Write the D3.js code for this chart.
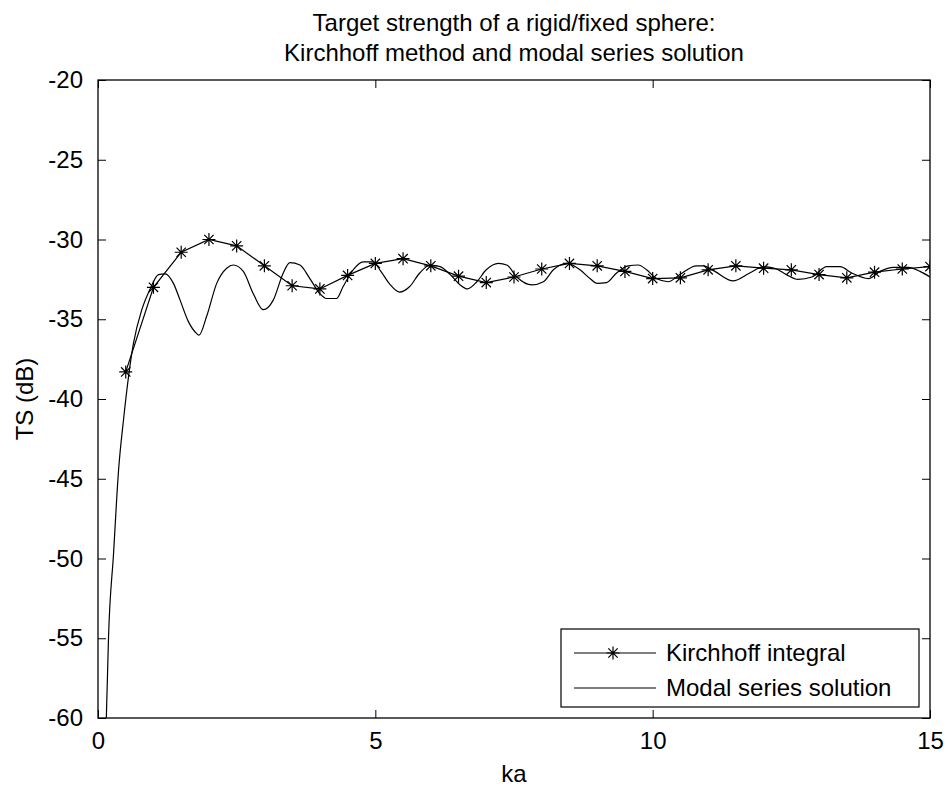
<!DOCTYPE html>
<html>
<head>
<meta charset="utf-8">
<script src="https://cdn.jsdelivr.net/npm/d3@7"></script>
<style>
  body { margin: 0; background: #fff; }
  text { font-family: "Liberation Sans", Arial, sans-serif; fill: #000; }
</style>
</head>
<body>
<div id="container"></div>
<script>
// Kirchhoff integral, sampled every 0.5 in ka
const kirchKa = [0.5, 1, 1.5, 2, 2.5, 3, 3.5, 4, 4.5, 5, 5.5, 6, 6.5, 7, 7.5,
                 8, 8.5, 9, 9.5, 10, 10.5, 11, 11.5, 12, 12.5, 13, 13.5, 14, 14.5, 15];
const kirchTS = [-38.3, -33.0, -30.8, -30.0, -30.4, -31.65, -32.9, -33.1, -32.25, -31.5,
                 -31.2, -31.65, -32.3, -32.7, -32.35, -31.85, -31.5, -31.65, -32.0, -32.45,
                 -32.4, -31.9, -31.65, -31.8, -31.9, -32.2, -32.4, -32.05, -31.85, -31.7];

// modal series solution
const modalKa = [0.15, 0.19, 0.28, 0.37, 0.46, 0.64, 0.79, 0.94, 1.09, 1.21, 1.36, 1.48, 1.63, 1.78, 1.82,
                 1.96, 2.14, 2.32, 2.44, 2.62, 2.8, 2.98, 3.16, 3.34, 3.46, 3.64, 3.82, 4.0, 4.12, 4.3,
                 4.42, 4.6, 4.78, 4.96, 5.1, 5.26, 5.44, 5.62, 5.8, 5.99, 6.17, 6.35, 6.53, 6.66, 6.83,
                 7.0, 7.22, 7.37, 7.55, 7.82, 8.03, 8.21, 8.45, 8.69, 8.87, 9.0, 9.17, 9.35, 9.56, 9.74,
                 9.89, 10.07, 10.28, 10.49, 10.79, 10.91, 11.12, 11.45, 11.75, 12.0, 12.2, 12.41, 12.62,
                 12.87, 13.14, 13.38, 13.59, 13.89, 14.1, 14.34, 14.61, 14.82, 15.0];
const modalTS = [-60, -54.9, -49.7, -44.5, -41.3, -36.5, -34.4, -33.1, -32.2, -32.15, -32.75, -33.8, -35.15, -35.9, -36.0,
                 -34.8, -32.75, -31.8, -31.6, -32.0, -33.4, -34.4, -33.8, -32.1, -31.45, -31.6, -32.45, -33.4, -33.7, -33.7,
                 -32.95, -31.9, -31.4, -31.4, -32.0, -32.8, -33.3, -32.95, -32.1, -31.6, -31.7, -32.2, -32.85, -33.1, -32.65,
                 -31.9, -31.5, -31.6, -32.35, -32.85, -32.65, -31.9, -31.5, -31.9, -32.45, -32.75, -32.7, -32.1, -31.65, -31.6,
                 -31.9, -32.45, -32.65, -32.2, -31.65, -31.65, -32.0, -32.6, -32.1, -31.7, -31.8, -32.2, -32.5,
                 -32.35, -31.7, -31.7, -32.1, -32.45, -32.0, -31.75, -31.75, -32.0, -32.35];

const xTicks = [0, 5, 10, 15];
const yTicks = [-20, -25, -30, -35, -40, -45, -50, -55, -60];
const titleLines = ["Target strength of a rigid/fixed sphere:", "Kirchhoff method and modal series solution"];
const legendLabels = ["Kirchhoff integral", "Modal series solution"];

const width = 948, height = 789;
const margin = {top: 80, right: 18, bottom: 71, left: 98};
const fontSize = 24;

const kirchData = kirchKa.map((k, i) => ({ka: k, ts: kirchTS[i]}));
const modalData = modalKa.map((k, i) => ({ka: k, ts: modalTS[i]}));

const xScale = d3.scaleLinear().domain([0, 15]).range([margin.left, width - margin.right]);
const yScale = d3.scaleLinear().domain([-60, -20]).range([height - margin.bottom, margin.top]);

const svg = d3.select("#container").append("svg")
  .attr("width", width).attr("height", height);

const x0 = xScale.range()[0], x1 = xScale.range()[1];
const y0 = yScale.range()[0], y1 = yScale.range()[1];
const tickLen = 8;

// axes, MATLAB style: ticks point inward on all four sides
svg.append("g")
  .attr("transform", `translate(0,${y0})`)
  .call(d3.axisBottom(xScale).tickValues(xTicks).tickSizeInner(-tickLen).tickSizeOuter(0).tickPadding(14))
  .call(g => g.select(".domain").remove())
  .call(g => g.selectAll("text").style("font-size", fontSize + "px").attr("font-family", null));

svg.append("g")
  .attr("transform", `translate(0,${y1})`)
  .call(d3.axisTop(xScale).tickValues(xTicks).tickSizeInner(-tickLen).tickSizeOuter(0).tickFormat(""))
  .call(g => g.select(".domain").remove());

svg.append("g")
  .attr("transform", `translate(${x0},0)`)
  .call(d3.axisLeft(yScale).tickValues(yTicks).tickSizeInner(-tickLen).tickSizeOuter(0).tickPadding(15)
    .tickFormat(d => d3.format("d")(d).replace("\u2212", "-")))
  .call(g => g.select(".domain").remove())
  .call(g => g.selectAll("text").style("font-size", fontSize + "px").attr("font-family", null));

svg.append("g")
  .attr("transform", `translate(${x1},0)`)
  .call(d3.axisRight(yScale).tickValues(yTicks).tickSizeInner(-tickLen).tickSizeOuter(0).tickFormat(""))
  .call(g => g.select(".domain").remove());

svg.selectAll(".tick line").attr("stroke", "#000").attr("stroke-width", 1);

// clip for the curves
svg.append("clipPath").attr("id", "plotclip")
  .append("rect").attr("x", x0).attr("y", y1).attr("width", x1 - x0).attr("height", y0 - y1);

const line = d3.line().x(d => xScale(d.ka)).y(d => yScale(d.ts));
const smooth = d3.line().x(d => xScale(d.ka)).y(d => yScale(d.ts)).curve(d3.curveMonotoneX);

const plot = svg.append("g").attr("clip-path", "url(#plotclip)");

plot.append("path").datum(modalData)
  .attr("d", smooth).attr("fill", "none").attr("stroke", "#000").attr("stroke-width", 1.2);

plot.append("path").datum(kirchData)
  .attr("d", line).attr("fill", "none").attr("stroke", "#000").attr("stroke-width", 1.2);

const r = 6.5, rd = r * 0.72;
const starPath = `M${-r},0H${r}M0,${-r}V${r}M${-rd},${-rd}L${rd},${rd}M${-rd},${rd}L${rd},${-rd}`;

plot.selectAll("path.star").data(kirchData).join("path")
  .attr("class", "star")
  .attr("transform", d => `translate(${xScale(d.ka)},${yScale(d.ts)})`)
  .attr("d", starPath).attr("fill", "none").attr("stroke", "#000").attr("stroke-width", 1.2);

// box
svg.append("rect").attr("x", x0).attr("y", y1).attr("width", x1 - x0).attr("height", y0 - y1)
  .attr("fill", "none").attr("stroke", "#000").attr("stroke-width", 1.3);

// title
svg.append("text").attr("x", (x0 + x1) / 2).attr("text-anchor", "middle").style("font-size", fontSize + "px")
  .selectAll("tspan").data(titleLines).join("tspan")
  .attr("x", (x0 + x1) / 2).attr("y", (d, i) => 31 + i * 30).text(d => d);

// axis labels
svg.append("text").attr("x", (x0 + x1) / 2).attr("y", 782).attr("text-anchor", "middle")
  .style("font-size", fontSize + "px").text("ka");

svg.append("text").attr("transform", `translate(33,${(y0 + y1) / 2}) rotate(-90)`)
  .attr("text-anchor", "middle").style("font-size", fontSize + "px").text("TS (dB)");

// legend
const legend = svg.append("g");
legend.append("rect").attr("x", 561).attr("y", 629).attr("width", 358).attr("height", 78)
  .attr("fill", "#fff").attr("stroke", "#000").attr("stroke-width", 1.2);

const rows = legend.selectAll("g.row").data(legendLabels).join("g")
  .attr("class", "row")
  .attr("transform", (d, i) => `translate(0,${653 + i * 35})`);

rows.append("line").attr("x1", 574).attr("x2", 656).attr("stroke", "#000").attr("stroke-width", 1.2);
rows.filter((d, i) => i === 0).append("path")
  .attr("transform", "translate(613,0)").attr("d", starPath)
  .attr("fill", "none").attr("stroke", "#000").attr("stroke-width", 1.2);
rows.append("text").attr("x", 666).attr("dy", "0.35em").style("font-size", fontSize + "px").text(d => d);
</script>
</body>
</html>
